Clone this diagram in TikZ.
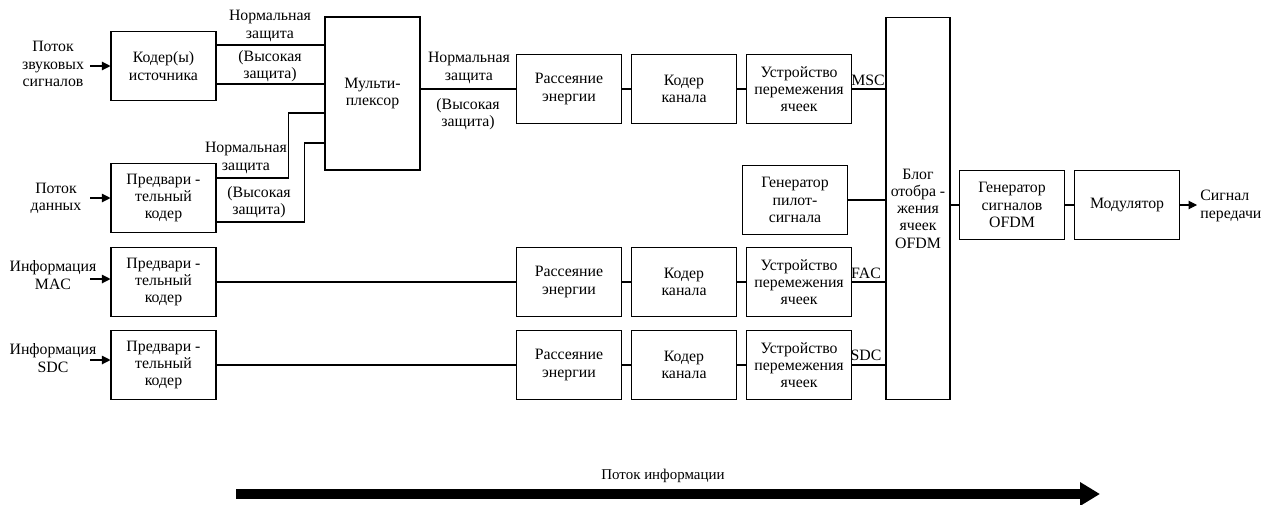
\documentclass[tikz,border=0pt]{standalone}
\usepackage{fontspec}
\setmainfont{Liberation Serif}
\usetikzlibrary{positioning,arrows.meta}

\begin{document}
\begin{tikzpicture}[
  x=0.02cm, y=-0.02cm,
  node distance=0.18cm,
  font=\fontsize{9}{9.8}\selectfont,
  mybox/.style={draw,line width=0.6pt,minimum width=2.1cm,minimum height=1.38cm,align=center,inner sep=1pt},
  mylabel/.style={align=center,inner sep=0pt},
  myline/.style={line width=0.6pt},
  myarrow/.style={line width=0.6pt,-{Triangle[length=1.7mm,width=1.7mm]}}
]
\useasboundingbox (0,0) rectangle (1261,504);

% left column
\node[mybox] (src) at (163.5,66) {Кодер(ы)\\источника};
\node[mybox] (pre1) at (163.5,198) {Предвари -\\тельный\\кодер};
\node[mybox] (pre2) at (163.5,282) {Предвари -\\тельный\\кодер};
\node[mybox] (pre3) at (163.5,365) {Предвари -\\тельный\\кодер};
\node[mybox,minimum width=1.9cm,minimum height=3.06cm] (mux) at (372.5,93.5) {Мульти-\\плексор};

% channel rows
\node[mybox] (rs1) at (569,89) {Рассеяние\\энергии};
\node[mybox,right=of rs1] (kk1) {Кодер\\канала};
\node[mybox,right=of kk1] (ust1) {Устройство\\перемежения\\ячеек};
\node[mybox] (rs2) at (569,282) {Рассеяние\\энергии};
\node[mybox,right=of rs2] (kk2) {Кодер\\канала};
\node[mybox,right=of kk2] (ust2) {Устройство\\перемежения\\ячеек};
\node[mybox] (rs3) at (569,365) {Рассеяние\\энергии};
\node[mybox,right=of rs3] (kk3) {Кодер\\канала};
\node[mybox,right=of kk3] (ust3) {Устройство\\перемежения\\ячеек};
\node[mybox] (pilot) at (795,200) {Генератор\\пилот-\\сигнала};

% right part
\node[mybox,minimum width=1.28cm,minimum height=7.66cm] (ofdm) at (918,208.5) {Блог\\отобра -\\жения\\ячеек\\OFDM};
\node[mybox] (gen) at (1012,205) {Генератор\\сигналов\\OFDM};
\node[mybox,right=of gen] (mod) {Модулятор};
\coordinate (out) at (1197,205);

% inputs
\node[mylabel] (in1) at (53,64) {Поток\\звуковых\\сигналов};
\node[mylabel] (in2) at (56,198) {Поток\\данных};
\node[mylabel] (in3) at (53,275) {Информация\\MAC};
\node[mylabel] (in4) at (53,358) {Информация\\SDC};
\node[mylabel,align=left,anchor=west] (sig) at (1200,206) {Сигнал\\передачи};

\draw[myarrow] ([xshift=-0.4cm]src.west) -- (src.west);
\draw[myarrow] ([xshift=-0.4cm]pre1.west) -- (pre1.west);
\draw[myarrow] ([xshift=-0.4cm,yshift=0.06cm]pre2.west) -- ([yshift=0.06cm]pre2.west);
\draw[myarrow] ([xshift=-0.4cm,yshift=0.1cm]pre3.west) -- ([yshift=0.1cm]pre3.west);

% into the multiplexer
\draw[myline] ([yshift=0.42cm]src.east) -- ([yshift=0.42cm]src.east -| mux.west);
\draw[myline] ([yshift=-0.36cm]src.east) -- ([yshift=-0.36cm]src.east -| mux.west);
\draw[myline] ([yshift=0.4cm]pre1.east) -| ([xshift=-0.72cm,yshift=-0.39cm]mux.west) -- ([yshift=-0.39cm]mux.west);
\draw[myline] ([yshift=-0.48cm]pre1.east) -| ([xshift=-0.4cm,yshift=-0.99cm]mux.west) -- ([yshift=-0.99cm]mux.west);
\node[mylabel] at (270,26) {Нормальная\\защита};
\node[mylabel] at (270,66) {(Высокая\\защита)};
\node[mylabel] at (246,158) {Нормальная\\защита};
\node[mylabel] at (259,202) {(Высокая\\защита)};

% chains
\draw[myline] (rs1 -| mux.east) -- (rs1);
\node[mylabel] at (469,68) {Нормальная\\защита};
\node[mylabel] at (468,114) {(Высокая\\защита)};
\draw[myline] (pre2) -- (rs2);
\draw[myline] (pre3) -- (rs3);
\foreach \r in {1,2,3} {
  \draw[myline] (rs\r) -- (kk\r);
  \draw[myline] (kk\r) -- (ust\r);
  \draw[myline] (ust\r.east) -- (ust\r.east -| ofdm.west);
}
\node[mylabel] at (868,80) {MSC};
\node[mylabel] at (866,273) {FAC};
\node[mylabel] at (866,355) {SDC};
\draw[myline] (pilot.east) -- (pilot.east -| ofdm.west);
\draw[myline] (gen.west -| ofdm.east) -- (gen.west);
\draw[myline] (gen) -- (mod);
\draw[myarrow] (mod.east) -- (out);

% information flow
\coordinate (fs) at (236,494);
\coordinate (fe) at (1100,494);
\draw[line width=5.7pt,-{Triangle[length=4mm,width=4.5mm]}] (fs) -- (fe);
\node[mylabel,font=\fontsize{8.5}{9}\selectfont] (ft) at (663,476) {Поток информации};
\end{tikzpicture}
\end{document}
